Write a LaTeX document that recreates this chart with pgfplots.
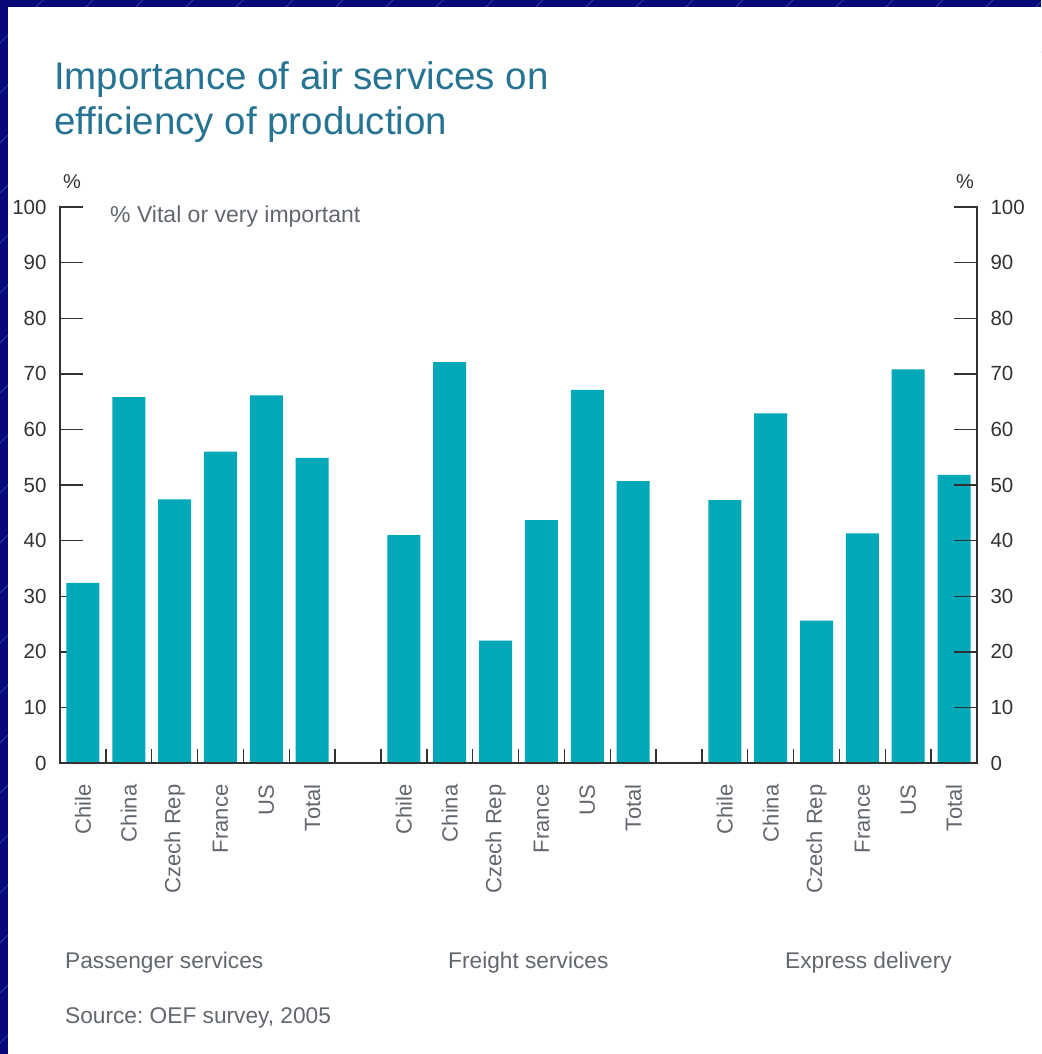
\documentclass[border=0pt]{standalone}
\usepackage{fontspec}
\setmainfont{Liberation Sans}
\usepackage{pgfplots}
\pgfplotsset{compat=1.18}
\frenchspacing

\definecolor{navy}{RGB}{8,8,122}
\definecolor{stripe}{RGB}{42,58,165}
\definecolor{barteal}{RGB}{0,168,184}
\definecolor{titleblue}{RGB}{38,116,146}
\definecolor{labelgrey}{RGB}{98,103,110}
\definecolor{axisgrey}{RGB}{50,50,50}

\newcommand{\fs}[1]{\fontsize{#1}{#1}\selectfont}

\begin{document}
\begin{tikzpicture}
  \begin{scope}[x=1pt,y=-1pt]
    \path[use as bounding box] (0,0) rectangle (1041,1054);
    % slide frame
    \fill[navy] (0,0) rectangle (1041,1054);
    \begin{scope}
      \clip (0,0) rectangle (1041,1054);
      \foreach \s in {-1011,-961,...,40} {
        \draw[stripe, line width=0.9pt] (\s,1054) -- ++(1054,-1054);
      }
    \end{scope}
    \fill[white] (8,7) rectangle (1041,1054);

    % titles and notes
    \node[anchor=base west, inner sep=0pt, text=titleblue, font=\fs{38.5}] at (54,90) {Importance of air services on};
    \node[anchor=base west, inner sep=0pt, text=titleblue, font=\fs{38.5}] at (54,135) {efficiency of production};
    \node[anchor=base, inner sep=0pt, text=axisgrey, font=\fs{20}] at (72,188) {\%};
    \node[anchor=base, inner sep=0pt, text=axisgrey, font=\fs{20}] at (965,188) {\%};
    \node[anchor=base west, inner sep=0pt, text=labelgrey, font=\fs{23}] at (110,222) {\% Vital or very important};
    \node[anchor=base west, inner sep=0pt, text=labelgrey, font=\fs{22.7}] at (65,968) {Passenger services};
    \node[anchor=base west, inner sep=0pt, text=labelgrey, font=\fs{22.7}] at (448,968) {Freight services};
    \node[anchor=base west, inner sep=0pt, text=labelgrey, font=\fs{22.7}] at (785,968) {Express delivery};
    \node[anchor=base west, inner sep=0pt, text=labelgrey, font=\fs{22.7}] at (65,1023) {Source: OEF survey, 2005};
  \end{scope}

  \begin{axis}[
      ybar, bar width=33pt,
      at={(60pt,-763pt)}, anchor=south west,
      width=917pt, height=556pt, scale only axis,
      xmin=0, xmax=20, ymin=0, ymax=100,
      axis line style={draw=none},
      tick align=inside, xtick align=inside, ytick align=inside,
      xtick pos=left, ytick pos=left,
      major tick length=23pt, minor tick length=14pt,
      tick style={axisgrey, line width=1.4pt},
      ytick={0,10,...,100},
      xtick={0.5,1.5,2.5,3.5,4.5,5.5,7.5,8.5,9.5,10.5,11.5,12.5,14.5,15.5,16.5,17.5,18.5,19.5},
      xticklabels={Chile,China,Czech Rep,France,US,Total,
                   Chile,China,Czech Rep,France,US,Total,
                   Chile,China,Czech Rep,France,US,Total},
      minor xtick={1,2,...,19},
      every major x tick/.append style={draw=none},
      xticklabel style={yshift=-18pt, rotate=90, anchor=east, font=\fs{22}, text=labelgrey},
      yticklabel style={xshift=-10pt, font=\fs{20.5}, text=axisgrey},
      /pgf/number format/assume math mode=true,
      clip=false,
    ]
    % Passenger services
    \addplot[fill=barteal, draw=none, bar shift=0pt] coordinates {
      (0.5,32.4) (1.5,65.8) (2.5,47.4) (3.5,56.0) (4.5,66.1) (5.5,54.9)
    };
    % Freight services
    \addplot[fill=barteal, draw=none, bar shift=0pt] coordinates {
      (7.5,41.0) (8.5,72.1) (9.5,22.0) (10.5,43.7) (11.5,67.1) (12.5,50.7)
    };
    % Express delivery
    \addplot[fill=barteal, draw=none, bar shift=0pt] coordinates {
      (14.5,47.3) (15.5,62.9) (16.5,25.6) (17.5,41.3) (18.5,70.8) (19.5,51.8)
    };
    % open frame: left, bottom and right lines, no top
    \draw[axisgrey, line width=1.6pt, line cap=rect]
      (rel axis cs:0,1) -- (rel axis cs:0,0) -- (rel axis cs:1,0) -- (rel axis cs:1,1);
  \end{axis}

  % right-hand scale
  \begin{axis}[
      at={(60pt,-763pt)}, anchor=south west,
      width=917pt, height=556pt, scale only axis,
      xmin=0, xmax=20, ymin=0, ymax=100,
      axis line style={draw=none},
      tick align=inside,
      ytick pos=right, yticklabel pos=right,
      major tick length=23pt,
      tick style={axisgrey, line width=1.4pt},
      ytick={0,10,...,100}, xtick=\empty,
      yticklabel style={xshift=10pt, font=\fs{20.5}, text=axisgrey},
      /pgf/number format/assume math mode=true,
    ]
  \end{axis}
\end{tikzpicture}
\end{document}
